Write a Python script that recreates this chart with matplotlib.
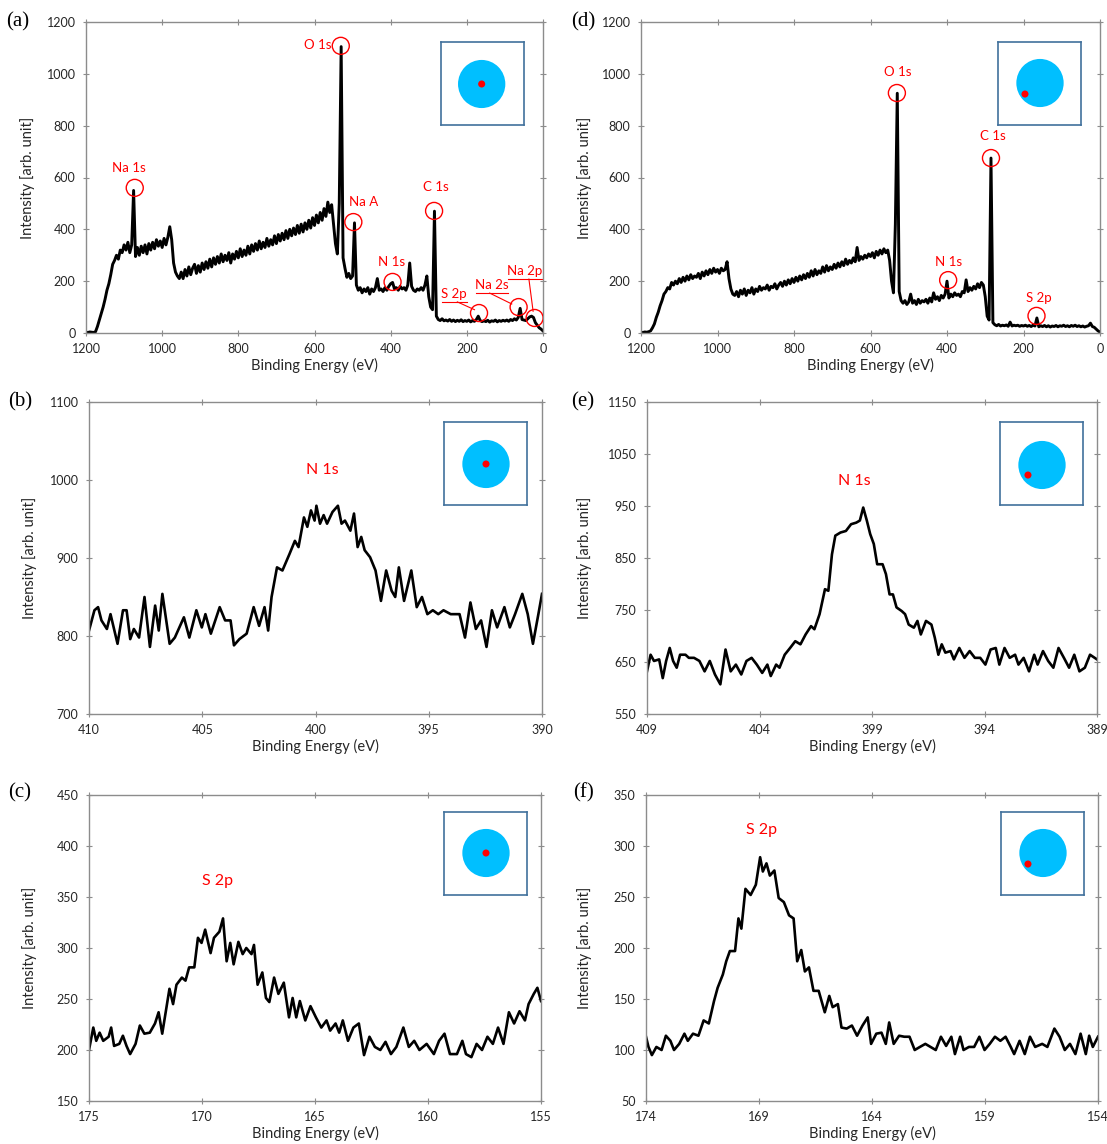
import numpy as np
import matplotlib
matplotlib.use("Agg")
import matplotlib.pyplot as plt
from matplotlib.patches import Ellipse

plt.rcParams['font.family'] = ['Lato', 'DejaVu Sans']

# ---------------- data ----------------
survey_energy = np.arange(1200, -1, -5)  # eV grid of the survey scans

survey_a = [
    3, 2, 4, 3, 2, 5, 25, 50, 75, 100,
    130, 165, 190, 225, 265, 280, 300, 285, 320, 310,
    340, 320, 350, 310, 340, 550, 295, 330, 300, 335,
    310, 340, 305, 345, 320, 350, 325, 360, 335, 355,
    330, 365, 340, 370, 410, 360, 270, 235, 220, 210,
    235, 210, 245, 220, 255, 225, 250, 265, 230, 260,
    235, 270, 245, 275, 250, 285, 255, 290, 265, 295,
    270, 305, 275, 300, 280, 310, 270, 305, 285, 315,
    290, 325, 295, 320, 300, 335, 305, 340, 315, 345,
    320, 355, 325, 350, 330, 365, 335, 360, 340, 375,
    345, 380, 355, 385, 360, 395, 365, 400, 375, 405,
    380, 415, 385, 420, 390, 425, 400, 435, 405, 445,
    415, 455, 425, 465, 435, 480, 450, 505, 465, 495,
    420, 345, 305, 500, 1105, 290, 250, 215, 230, 210,
    220, 425, 185, 165, 175, 155, 170, 160, 175, 150,
    170, 160, 175, 210, 165, 170, 160, 175, 165, 180,
    190, 195, 170, 175, 165, 180, 170, 175, 165, 185,
    270, 180, 165, 160, 170, 165, 175, 165, 185, 220,
    140, 100, 90, 470, 65, 52, 48, 55, 47, 50,
    46, 52, 45, 50, 44, 49, 45, 51, 44, 48,
    45, 50, 43, 48, 45, 52, 65, 48, 44, 47,
    44, 49, 42, 47, 45, 50, 43, 48, 45, 49,
    46, 50, 45, 52, 48, 55, 50, 60, 95, 52,
    50, 48, 55, 62, 65, 60, 40, 30, 20, 15,
    8]

survey_d = [
    3, 2, 4, 3, 5, 8, 20, 35, 60, 80,
    105, 125, 150, 160, 175, 170, 195, 185, 200, 190,
    210, 195, 215, 200, 220, 205, 225, 210, 220, 215,
    230, 210, 235, 220, 240, 225, 245, 230, 250, 235,
    245, 230, 250, 240, 245, 275, 210, 170, 150, 145,
    160, 140, 165, 150, 170, 145, 165, 155, 175, 150,
    170, 160, 180, 165, 175, 170, 185, 165, 180, 175,
    190, 170, 185, 195, 180, 200, 185, 205, 190, 210,
    195, 215, 200, 220, 205, 225, 210, 230, 215, 240,
    220, 245, 225, 240, 230, 255, 235, 260, 240, 255,
    245, 265, 250, 270, 255, 275, 260, 285, 265, 280,
    270, 290, 275, 330, 280, 295, 285, 300, 290, 305,
    295, 310, 290, 315, 300, 320, 305, 325, 310, 320,
    280, 200, 155, 420, 925, 160, 125, 115, 125, 110,
    120, 150, 115, 125, 110, 130, 115, 125, 120, 130,
    115, 135, 120, 155, 130, 140, 125, 145, 135, 150,
    200, 135, 150, 140, 155, 145, 150, 140, 160, 155,
    205, 160, 175, 165, 180, 170, 190, 175, 195, 185,
    140, 65, 50, 675, 40, 32, 28, 33, 27, 30,
    28, 31, 26, 42, 27, 30, 28, 30, 26, 29,
    27, 30, 26, 29, 25, 30, 27, 58, 24, 28,
    25, 29, 24, 28, 23, 27, 25, 29, 24, 28,
    26, 30, 25, 28, 24, 29, 26, 30, 25, 28,
    24, 27, 23, 26, 28, 38, 25, 22, 15, 8,
    4]

# (b) N 1s, centre point
n1s_b_energy = [
    410.00, 409.76, 409.60, 409.45, 409.21, 409.05, 408.74, 408.50, 408.34, 408.18,
    408.02, 407.79, 407.55, 407.31, 407.08, 406.92, 406.76, 406.44, 406.21, 405.81,
    405.57, 405.26, 405.02, 404.86, 404.62, 404.23, 403.99, 403.75, 403.60, 403.36,
    403.04, 402.73, 402.49, 402.25, 402.09, 401.94, 401.70, 401.46, 401.15, 400.91,
    400.75, 400.51, 400.36, 400.20, 400.04, 399.96, 399.80, 399.64, 399.49, 399.25,
    399.01, 398.85, 398.70, 398.46, 398.30, 398.14, 397.98, 397.83, 397.59, 397.35,
    397.11, 396.88, 396.64, 396.48, 396.32, 396.09, 395.77, 395.53, 395.30, 395.06,
    394.82, 394.58, 394.35, 394.03, 393.64, 393.40, 393.16, 392.92, 392.69, 392.45,
    392.21, 391.98, 391.66, 391.42, 391.19, 390.87, 390.63, 390.40, 390.16, 390.00]
n1s_b_int = [
    807, 833, 837, 820, 809, 828, 790, 833, 833, 796,
    809, 798, 850, 786, 839, 807, 854, 790, 798, 824,
    798, 833, 811, 828, 803, 837, 820, 820, 788, 796,
    803, 837, 813, 837, 807, 850, 888, 884, 905, 922,
    914, 952, 940, 961, 948, 967, 944, 955, 944, 959,
    967, 944, 948, 935, 957, 914, 927, 910, 901, 884,
    845, 884, 858, 850, 888, 845, 884, 837, 850, 828,
    833, 828, 833, 828, 828, 798, 843, 809, 820, 786,
    833, 811, 837, 811, 828, 854, 828, 790, 828, 854]

# (e) N 1s, off-centre point
n1s_e_energy = [
    409.00, 408.84, 408.69, 408.46, 408.30, 408.15, 407.99, 407.84, 407.68, 407.53,
    407.29, 407.14, 406.91, 406.67, 406.44, 406.21, 405.98, 405.74, 405.51, 405.28,
    405.05, 404.81, 404.58, 404.35, 404.12, 403.88, 403.65, 403.50, 403.26, 403.11,
    402.88, 402.64, 402.41, 402.18, 401.95, 401.71, 401.56, 401.33, 401.09, 400.94,
    400.78, 400.63, 400.40, 400.16, 399.93, 399.70, 399.54, 399.39, 399.23, 399.08,
    398.92, 398.77, 398.53, 398.38, 398.22, 398.07, 397.91, 397.68, 397.53, 397.37,
    397.14, 396.98, 396.83, 396.60, 396.36, 396.21, 396.05, 395.90, 395.74, 395.51,
    395.36, 395.12, 394.89, 394.66, 394.43, 394.19, 393.96, 393.73, 393.50, 393.34,
    393.11, 392.88, 392.64, 392.49, 392.26, 392.02, 391.79, 391.64, 391.40, 391.17,
    390.94, 390.71, 390.47, 390.24, 390.01, 389.78, 389.54, 389.31, 389.00]
n1s_e_int = [
    632, 664, 652, 655, 619, 652, 677, 652, 639, 664,
    664, 658, 658, 652, 632, 652, 626, 607, 674, 632,
    645, 626, 652, 658, 645, 629, 645, 623, 645, 639,
    664, 677, 690, 684, 703, 719, 713, 742, 790, 787,
    857, 893, 899, 902, 915, 918, 922, 947, 922, 896,
    877, 838, 838, 819, 780, 780, 755, 748, 742, 722,
    716, 729, 703, 729, 722, 697, 664, 684, 668, 671,
    655, 677, 658, 671, 658, 658, 645, 674, 677, 645,
    677, 658, 664, 645, 658, 632, 664, 645, 671, 652,
    639, 677, 658, 639, 664, 632, 639, 664, 655]

# (c) S 2p, centre point
s2p_c_energy = [
    175.00, 174.81, 174.68, 174.53, 174.37, 174.13, 174.02, 173.89, 173.66, 173.50,
    173.34, 173.18, 172.94, 172.75, 172.55, 172.31, 172.08, 171.92, 171.76, 171.60,
    171.44, 171.28, 171.13, 170.89, 170.73, 170.57, 170.34, 170.18, 170.02, 169.86,
    169.62, 169.47, 169.23, 169.07, 168.91, 168.75, 168.60, 168.39, 168.20, 168.04,
    167.81, 167.70, 167.54, 167.33, 167.17, 167.02, 166.81, 166.62, 166.38, 166.15,
    165.99, 165.83, 165.67, 165.43, 165.20, 164.96, 164.72, 164.49, 164.33, 164.09,
    163.93, 163.77, 163.54, 163.30, 163.06, 162.83, 162.59, 162.35, 162.11, 161.88,
    161.64, 161.40, 161.09, 160.85, 160.61, 160.38, 160.06, 159.74, 159.51, 159.27,
    159.03, 158.72, 158.48, 158.32, 158.08, 157.85, 157.61, 157.37, 157.13, 156.90,
    156.66, 156.42, 156.19, 155.95, 155.71, 155.55, 155.32, 155.16, 155.00]
s2p_c_int = [
    200, 222, 209, 217, 209, 213, 222, 204, 206, 214,
    204, 196, 206, 224, 216, 217, 226, 237, 216, 238,
    260, 245, 264, 271, 268, 281, 281, 310, 305, 318,
    295, 310, 316, 329, 287, 305, 284, 306, 294, 300,
    294, 303, 264, 276, 251, 247, 271, 255, 266, 232,
    251, 232, 248, 229, 243, 232, 222, 229, 219, 226,
    217, 229, 209, 222, 226, 195, 213, 203, 200, 208,
    196, 203, 222, 203, 209, 200, 206, 196, 209, 216,
    196, 196, 209, 196, 193, 206, 200, 213, 206, 222,
    206, 237, 226, 238, 229, 245, 255, 261, 248]

# (f) S 2p, off-centre point
s2p_f_energy = [
    174.00, 173.89, 173.74, 173.54, 173.31, 173.12, 172.92, 172.76, 172.53, 172.30,
    172.15, 171.92, 171.68, 171.45, 171.22, 170.99, 170.83, 170.60, 170.45, 170.29,
    170.06, 169.91, 169.78, 169.60, 169.37, 169.14, 168.95, 168.83, 168.67, 168.52,
    168.32, 168.13, 167.90, 167.67, 167.47, 167.31, 167.13, 166.97, 166.79, 166.59,
    166.36, 166.09, 165.89, 165.74, 165.51, 165.35, 165.12, 164.89, 164.66, 164.42,
    164.19, 164.04, 163.81, 163.58, 163.39, 163.24, 163.04, 162.80, 162.57, 162.34,
    162.11, 161.88, 161.64, 161.41, 161.18, 160.95, 160.72, 160.49, 160.33, 160.10,
    159.95, 159.71, 159.48, 159.25, 159.02, 158.79, 158.56, 158.32, 158.09, 157.86,
    157.71, 157.47, 157.24, 157.01, 156.78, 156.47, 156.24, 155.93, 155.70, 155.47,
    155.24, 155.00, 154.77, 154.54, 154.39, 154.23, 154.00]
s2p_f_int = [
    113, 103, 95, 103, 100, 114, 109, 100, 106, 116,
    109, 116, 114, 129, 126, 148, 161, 174, 187, 197,
    197, 229, 219, 258, 252, 262, 289, 275, 283, 271,
    276, 249, 245, 232, 229, 187, 198, 177, 181, 158,
    158, 137, 153, 142, 145, 122, 121, 124, 114, 124,
    132, 106, 116, 117, 106, 127, 106, 114, 113, 113,
    100, 103, 106, 103, 100, 113, 104, 113, 96, 113,
    100, 103, 103, 113, 100, 106, 113, 109, 113, 103,
    96, 109, 96, 113, 103, 106, 103, 121, 113, 100,
    106, 96, 116, 96, 114, 103, 113]

# peak labels on survey scans: (label, peak energy, circle intensity)
peaks_a = [("Na 1s", 1072, 560), ("O 1s", 531, 1108), ("Na A", 498, 428),
           ("N 1s", 395, 197), ("C 1s", 286, 471), ("S 2p", 168, 77),
           ("Na 2s", 64, 100), ("Na 2p", 22, 58)]
peaks_d = [("O 1s", 531, 926), ("N 1s", 397, 204), ("C 1s", 285, 675),
           ("S 2p", 166, 66)]

# ---------------- figure ----------------
W, H = 1107, 1144
fig = plt.figure(figsize=(W / 100, H / 100), dpi=100)

GRAY = '#8c8c8c'
TXT = '#262626'


def px_axes(l, t, r, b):
    return fig.add_axes([l / W, 1 - b / H, (r - l) / W, (b - t) / H])


def style(ax, xlim, xticks, ylim, yticks, ylab_x):
    ax.set_xlim(*xlim)
    ax.set_ylim(*ylim)
    ax.set_xticks(xticks)
    ax.set_yticks(yticks)
    for s in ax.spines.values():
        s.set_color(GRAY)
        s.set_linewidth(1.0)
    ax.tick_params(direction='inout', length=5, width=0.8, color=GRAY,
                   labelsize=9, labelcolor=TXT, top=True, right=True, pad=5)
    ax.set_xlabel('Binding Energy (eV)', fontsize=10.5, color=TXT, labelpad=2)
    ax.set_ylabel('Intensity [arb. unit]', fontsize=10.5, color=TXT)
    ax.yaxis.set_label_coords(ylab_x, 0.5)


def inset(l, t, r, b, circ, dot):
    iax = px_axes(l, t, r, b)
    iax.set_xlim(0, 1)
    iax.set_ylim(0, 1)
    iax.set_xticks([])
    iax.set_yticks([])
    iax.set_facecolor('white')
    for s in iax.spines.values():
        s.set_color('#41719c')
        s.set_linewidth(1.2)
    iax.add_patch(Ellipse(circ, 0.57, 0.58, color='#00bfff', lw=0))
    iax.add_patch(Ellipse(dot, 0.085, 0.085, color='#ff0000', lw=0))


def panel_label(x, y, s):
    fig.text(x / W, 1 - y / H, s, fontsize=15, family=['Liberation Serif', 'DejaVu Serif'],
             ha='center', va='center')


RED = '#ff0000'
LW_S = 2.1
LW_D = 1.9

# (a)
ax_a = px_axes(86, 22, 543, 333)
ax_a.plot(survey_energy, survey_a, color='black', lw=LW_S)
style(ax_a, (1200, 0), range(1200, -1, -200), (0, 1200), range(0, 1201, 200), -0.112)
for name, e, i in peaks_a:
    ax_a.scatter([e], [i], s=150, facecolors='none', edgecolors=RED, linewidths=1.0, zorder=5)
lab_a = {"Na 1s": (1088, 637, 'center'), "O 1s": (555, 1112, 'right'),
         "Na A": (470, 506, 'center'), "N 1s": (397, 274, 'center'),
         "C 1s": (281, 564, 'center'), "S 2p": (233, 150, 'center'),
         "Na 2s": (134, 186, 'center'), "Na 2p": (48, 241, 'center')}
for name, (e, i, ha) in lab_a.items():
    ax_a.text(e, i, name, color=RED, fontsize=9.5, ha=ha, va='center')
# underlines and leader lines for crowded labels
ax_a.plot([265, 200], [120, 120], color=RED, lw=0.8)
ax_a.plot([225, 180], [120, 90], color=RED, lw=0.8)
ax_a.plot([176, 92], [154, 154], color=RED, lw=0.8)
ax_a.plot([140, 82], [154, 112], color=RED, lw=0.8)
ax_a.plot([92, 2], [208, 208], color=RED, lw=0.8)
ax_a.plot([37, 26], [208, 84], color=RED, lw=0.8)
panel_label(18, 22, '(a)')

# (d)
ax_d = px_axes(641, 22, 1100, 333)
ax_d.plot(survey_energy, survey_d, color='black', lw=LW_S)
style(ax_d, (1200, 0), range(1200, -1, -200), (0, 1200), range(0, 1201, 200), -0.107)
lab_d = {"O 1s": (528, 1007), "N 1s": (397, 274), "C 1s": (280, 760), "S 2p": (160, 135)}
for name, e, i in peaks_d:
    ax_d.scatter([e], [i], s=150, facecolors='none', edgecolors=RED, linewidths=1.0, zorder=5)
    le, li = lab_d[name]
    ax_d.text(le, li, name, color=RED, fontsize=9.5, ha='center', va='center')
panel_label(583, 22, '(d)')

# (b)
ax_b = px_axes(89, 402, 542, 714)
ax_b.plot(n1s_b_energy, n1s_b_int, color='black', lw=LW_D)
style(ax_b, (410, 390), [410, 405, 400, 395, 390], (700, 1100), range(700, 1101, 100), -0.115)
ax_b.text(399.7, 1013, 'N 1s', color=RED, fontsize=11.5, ha='center', va='center')
panel_label(20, 402, '(b)')

# (e)
ax_e = px_axes(647, 402, 1097, 714)
ax_e.plot(n1s_e_energy, n1s_e_int, color='black', lw=LW_D)
style(ax_e, (409, 389), [409, 404, 399, 394, 389], (550, 1150), range(550, 1151, 100), -0.122)
ax_e.text(399.8, 998, 'N 1s', color=RED, fontsize=11.5, ha='center', va='center')
panel_label(583, 402, '(e)')

# (c)
ax_c = px_axes(89, 795, 541, 1101)
ax_c.plot(s2p_c_energy, s2p_c_int, color='black', lw=LW_D)
style(ax_c, (175, 155), [175, 170, 165, 160, 155], (150, 450), range(150, 451, 50), -0.115)
ax_c.text(169.3, 366, 'S 2p', color=RED, fontsize=11.5, ha='center', va='center')
panel_label(20, 793, '(c)')

# (f)
ax_f = px_axes(646, 795, 1098, 1101)
ax_f.plot(s2p_f_energy, s2p_f_int, color='black', lw=LW_D)
style(ax_f, (174, 154), [174, 169, 164, 159, 154], (50, 350), range(50, 351, 50), -0.12)
ax_f.text(168.9, 316, 'S 2p', color=RED, fontsize=11.5, ha='center', va='center')
panel_label(583, 793, '(f)')

# sample-position insets
inset(441, 42, 524, 125, (0.49, 0.494), (0.49, 0.494))
inset(998, 42, 1081, 125, (0.506, 0.506), (0.325, 0.373))
inset(444, 422, 527, 505, (0.506, 0.494), (0.506, 0.494))
inset(1000, 422, 1083, 505, (0.506, 0.482), (0.337, 0.361))
inset(444, 812, 527, 895, (0.506, 0.506), (0.506, 0.506))
inset(1001, 812, 1084, 895, (0.506, 0.506), (0.325, 0.373))

fig.savefig('out.png', dpi=100)
